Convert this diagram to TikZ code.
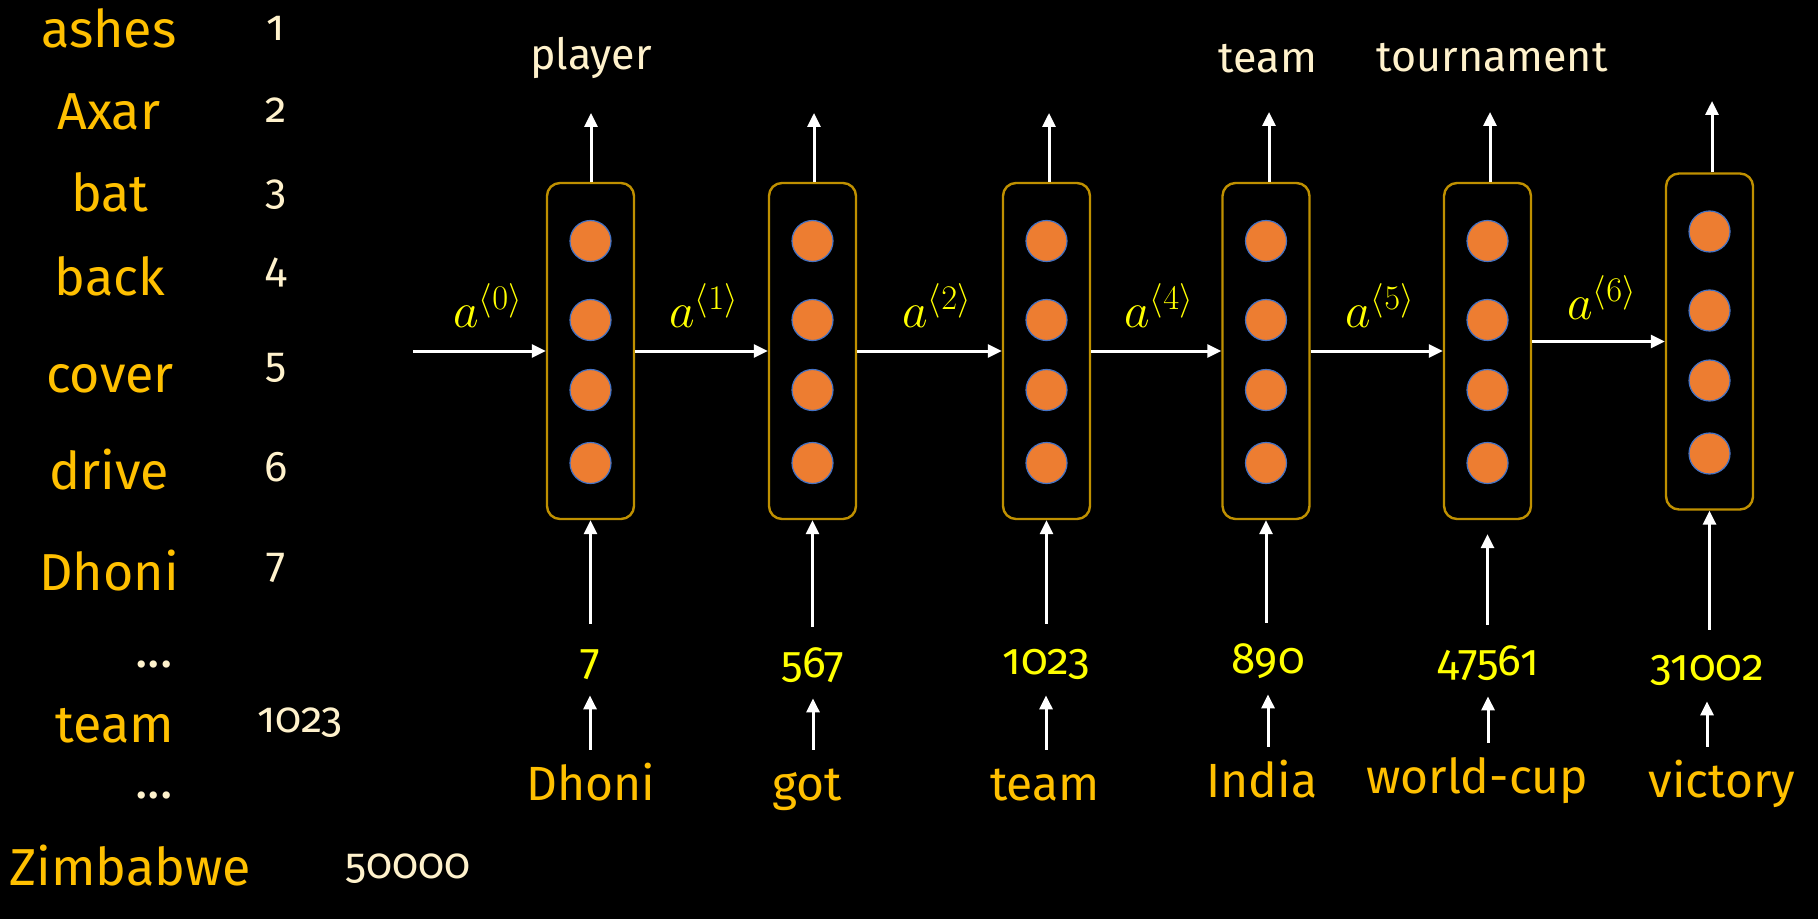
\documentclass[tikz,border=0pt]{standalone}
\usepackage[no-math]{fontspec}
\setmainfont{Fira Sans}[Numbers=OldStyle]
\usetikzlibrary{arrows.meta}
\definecolor{gold}{HTML}{FFC000}
\definecolor{cream}{HTML}{FFF2CC}
\definecolor{ylw}{HTML}{FFFF00}
\definecolor{boxc}{HTML}{BF9000}
\definecolor{dotc}{HTML}{ED7D31}
\definecolor{dotl}{HTML}{4472C4}
\tikzset{
  lword/.style={anchor=base, inner sep=0pt, text=gold, font=\fontsize{26}{30}\selectfont},
  ldots/.style={anchor=base, inner sep=0pt, text=cream, font=\fontsize{26}{30}\selectfont},
  lnum/.style={anchor=base, inner sep=0pt, text=cream, font=\fontsize{21.5}{25}\selectfont},
  toplbl/.style={anchor=base, inner sep=0pt, text=cream, font=\fontsize{21.5}{25}\selectfont},
  alabel/.style={anchor=base, inner sep=0pt, text=ylw, font=\fontsize{23}{27}\selectfont},
  cell/.style={draw=boxc, line width=1.2pt, rounded corners=6.5pt, minimum width=43.5pt, minimum height=168pt, inner sep=0pt},
  unit/.style={circle, fill=dotc, draw=dotl, line width=0.6pt, minimum size=20.5pt, inner sep=0pt},
  arr/.style={draw=white, line width=1.5pt, -{Triangle[width=6.5pt,length=7pt]}},
  bnum/.style={anchor=base, inner sep=0pt, text=ylw, text height=15pt, text depth=4pt, font=\fontsize{22}{26}\selectfont},
  bword/.style={anchor=base, inner sep=0pt, text=gold, text height=17pt, text depth=5pt, font=\fontsize{24}{28}\selectfont}
}
\begin{document}
\begin{tikzpicture}[x=0.5pt,y=-0.5pt]
\fill[black] (0,0) rectangle (1818,919);
\useasboundingbox (0,0) rectangle (1818,919);

% vocabulary column
\node[lword] (v1) at (109,48) {ashes};
\node[lword] (v2) at (109,130) {Axar};
\node[lword] (v3) at (110,212) {bat};
\node[lword] (v4) at (110,296) {back};
\node[lword] (v5) at (110,393) {cover};
\node[lword] (v6) at (109,489) {drive};
\node[lword] (v7) at (109,590) {Dhoni};
\node[ldots] (vd1) at (154,667) {...};
\node[lword] (v8) at (115,742) {team};
\node[ldots] (vd2) at (154,798) {...};
\node[lword] (v9) at (130,885) {Zimbabwe};

\node[lnum] (i1) at (276,41) {1};
\node[lnum] (i2) at (276,123) {2};
\node[lnum] (i3) at (276,205) {3};
\node[lnum] (i4) at (276,283) {4};
\node[lnum] (i5) at (276,378) {5};
\node[lnum] (i6) at (276,481) {6};
\node[lnum] (i7) at (276,577) {7};
\node[lnum] (i8) at (300,732) {1023};
\node[lnum] (i9) at (408,878) {50000};

% RNN cells
\node[cell] (b1) at (590.5,351) {};
\node[cell] (b2) at (812.5,351) {};
\node[cell] (b3) at (1046.5,351) {};
\node[cell] (b4) at (1266,351) {};
\node[cell] (b5) at (1487.5,351) {};
\node[cell] (b6) at (1709.5,341.5) {};

\foreach \b in {1,...,6}{
  \foreach \k/\dy in {1/-110,2/-31,3/39,4/112}{
    \node[unit] (u\b\k) at ([yshift=-\dy*0.5pt]b\b.center) {};
  }
}

% hidden state arrows
\coordinate (in0) at (413,351);
\draw[arr] (in0) -- (b1.west);
\draw[arr] (b1.east) -- (b2.west);
\draw[arr] (b2.east) -- (b3.west);
\draw[arr] (b3.east) -- (b4.west);
\draw[arr] (b4.east) -- (b5.west);
\draw[arr] (b5.east |- b6.west) -- (b6.west);

\node[alabel] (a0) at (488,328) {$a^{\langle 0\rangle}$};
\node[alabel] (a1) at (704,328) {$a^{\langle 1\rangle}$};
\node[alabel] (a2) at (937,328) {$a^{\langle 2\rangle}$};
\node[alabel] (a4) at (1159,328) {$a^{\langle 4\rangle}$};
\node[alabel] (a5) at (1380,328) {$a^{\langle 5\rangle}$};
\node[alabel] (a6) at (1602,320) {$a^{\langle 6\rangle}$};

% outputs
\coordinate (t1) at (591,113);
\coordinate (t2) at (814,113);
\coordinate (t3) at (1049,113);
\coordinate (t4) at (1269,112);
\coordinate (t5) at (1490,112);
\coordinate (t6) at (1712,101);
\foreach \b in {1,...,6}{
  \draw[arr] (t\b |- b\b.north) -- (t\b);
}
\node[toplbl] (o1) at (591,70) {player};
\node[toplbl] (o4) at (1268,73) {team};
\node[toplbl] (o5) at (1492,72) {tournament};

% inputs
\node[bnum] (n1) at (590,674) {7};
\node[bnum] (n2) at (813,677) {567};
\node[bnum] (n3) at (1046,674) {1023};
\node[bnum] (n4) at (1268,673) {890};
\node[bnum] (n5) at (1488,675) {47561};
\node[bnum] (n6) at (1707,680) {31002};

\node[bword] (w1) at (591,800) {Dhoni};
\node[bword] (w2) at (807,800) {got};
\node[bword] (w3) at (1045,800) {team};
\node[bword] (w4) at (1262,797) {India};
\node[bword] (w5) at (1477,793) {world-cup};
\node[bword] (w6) at (1722,797) {victory};

\draw[arr, shorten <=10pt] (b1.south |- n1.north) -- (b1.south);
\draw[arr, shorten <=10pt] (b2.south |- n2.north) -- (b2.south);
\draw[arr, shorten <=10pt] (b3.south |- n3.north) -- (b3.south);
\draw[arr, shorten <=10pt] (b4.south |- n4.north) -- (b4.south);
\draw[arr, shorten <=10pt, shorten >=7pt] (b5.south |- n5.north) -- (b5.south);
\draw[arr, shorten <=10pt] (b6.south |- n6.north) -- (b6.south);

\foreach \b in {1,...,6}{
  \draw[arr, shorten <=8pt, shorten >=6.5pt] (n\b.south |- w\b.north) -- (n\b.south);
}
\end{tikzpicture}
\end{document}
